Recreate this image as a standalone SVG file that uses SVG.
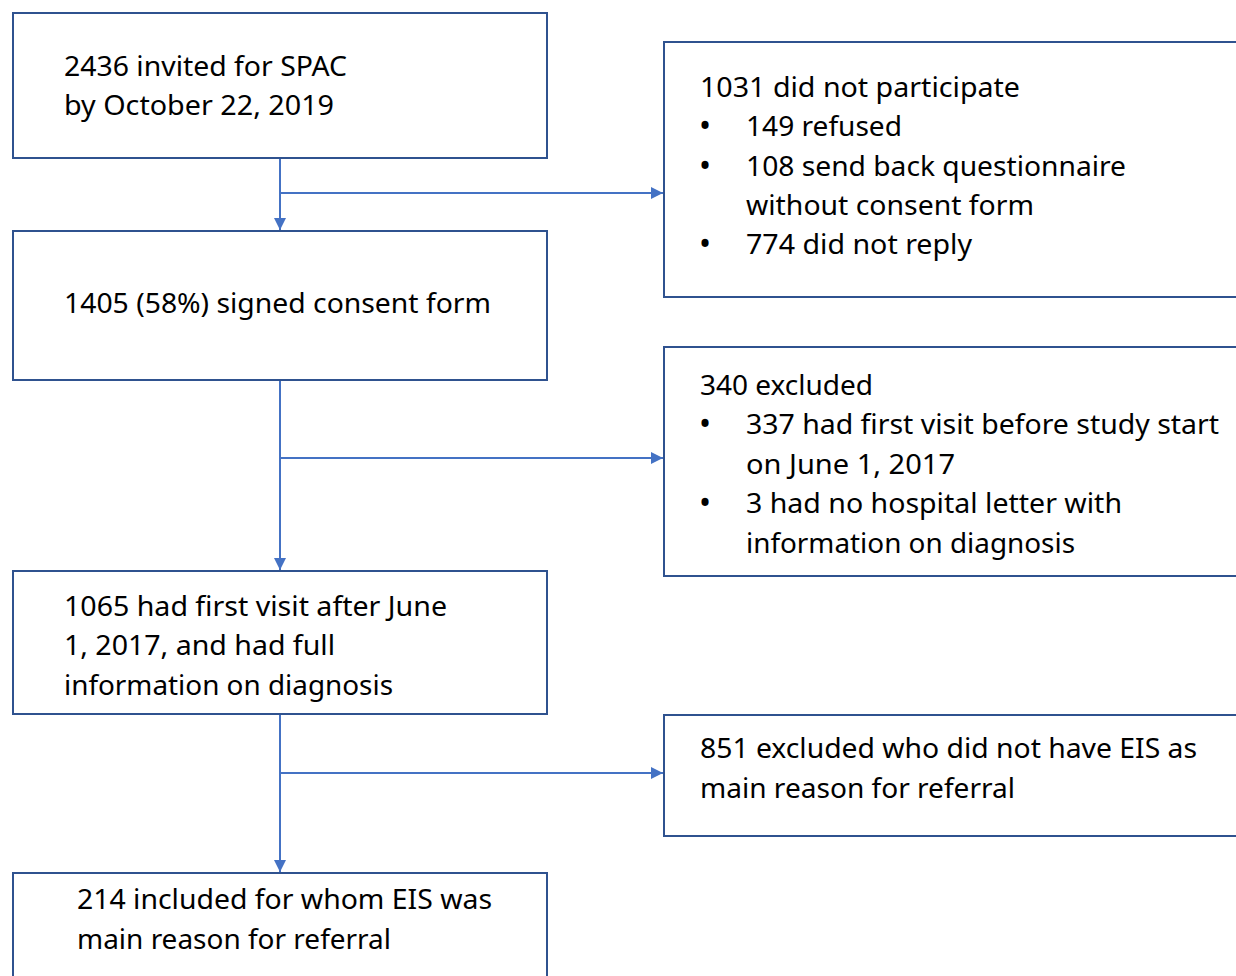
<svg xmlns="http://www.w3.org/2000/svg" width="1236" height="976" viewBox="0 0 1236 976">
<defs>
<style>
.box{fill:#ffffff;stroke:#2F528F;stroke-width:2}
.t{font-family:"Noto Sans","Open Sans",sans-serif;font-size:27px;fill:#000000}
.b{font-family:"Noto Sans","Open Sans",sans-serif;font-size:32px;fill:#000000}
.c{fill:none;stroke:#4472C4;stroke-width:2}
</style>
<marker id="ah" markerWidth="12" markerHeight="12" viewBox="0 0 12 12" refX="12" refY="6" orient="auto" markerUnits="userSpaceOnUse">
<path d="M0,0 L12,6 L0,12 Z" fill="#4472C4"/>
</marker>
</defs>
<rect width="1236" height="976" fill="#ffffff"/>
<g id="connectors">
<line class="c" x1="280" y1="159" x2="280" y2="230" marker-end="url(#ah)"/>
<line class="c" x1="280" y1="193" x2="663" y2="193" marker-end="url(#ah)"/>
<line class="c" x1="280" y1="381" x2="280" y2="570" marker-end="url(#ah)"/>
<line class="c" x1="280" y1="458" x2="663" y2="458" marker-end="url(#ah)"/>
<line class="c" x1="280" y1="715" x2="280" y2="872" marker-end="url(#ah)"/>
<line class="c" x1="280" y1="773" x2="663" y2="773" marker-end="url(#ah)"/>
</g>
<g id="n1">
<rect class="box" x="13" y="13" width="534" height="145"/>
<text class="t" x="64" y="76" textLength="283" lengthAdjust="spacingAndGlyphs">2436 invited for SPAC</text>
<text class="t" x="64" y="115" textLength="270" lengthAdjust="spacingAndGlyphs">by October 22, 2019</text>
</g>
<g id="n2">
<rect class="box" x="13" y="231" width="534" height="149"/>
<text class="t" x="64" y="313" textLength="427" lengthAdjust="spacingAndGlyphs">1405 (58%) signed consent form</text>
</g>
<g id="n3">
<rect class="box" x="13" y="571" width="534" height="143"/>
<text class="t" x="64" y="616" textLength="383" lengthAdjust="spacingAndGlyphs">1065 had first visit after June</text>
<text class="t" x="64" y="655" textLength="271" lengthAdjust="spacingAndGlyphs">1, 2017, and had full</text>
<text class="t" x="64" y="695" textLength="329" lengthAdjust="spacingAndGlyphs">information on diagnosis</text>
</g>
<g id="n4">
<rect class="box" x="13" y="873" width="534" height="120"/>
<text class="t" x="77" y="909" textLength="415" lengthAdjust="spacingAndGlyphs">214 included for whom EIS was</text>
<text class="t" x="77" y="949" textLength="314" lengthAdjust="spacingAndGlyphs">main reason for referral</text>
</g>
<g id="r1">
<rect class="box" x="664" y="42" width="590" height="255"/>
<text class="t" x="700" y="97" textLength="320" lengthAdjust="spacingAndGlyphs">1031 did not participate</text>
<text class="b" x="699" y="137">•</text>
<text class="t" x="746" y="136" textLength="156" lengthAdjust="spacingAndGlyphs">149 refused</text>
<text class="b" x="699" y="177">•</text>
<text class="t" x="746" y="176" textLength="380" lengthAdjust="spacingAndGlyphs">108 send back questionnaire</text>
<text class="t" x="746" y="215" textLength="288" lengthAdjust="spacingAndGlyphs">without consent form</text>
<text class="b" x="699" y="255">•</text>
<text class="t" x="746" y="254" textLength="226" lengthAdjust="spacingAndGlyphs">774 did not reply</text>
</g>
<g id="r2">
<rect class="box" x="664" y="347" width="590" height="229"/>
<text class="t" x="700" y="395" textLength="173" lengthAdjust="spacingAndGlyphs">340 excluded</text>
<text class="b" x="699" y="435">•</text>
<text class="t" x="746" y="434" textLength="473" lengthAdjust="spacingAndGlyphs">337 had first visit before study start</text>
<text class="t" x="746" y="474" textLength="209" lengthAdjust="spacingAndGlyphs">on June 1, 2017</text>
<text class="b" x="699" y="514">•</text>
<text class="t" x="746" y="513" textLength="376" lengthAdjust="spacingAndGlyphs">3 had no hospital letter with</text>
<text class="t" x="746" y="553" textLength="329" lengthAdjust="spacingAndGlyphs">information on diagnosis</text>
</g>
<g id="r3">
<rect class="box" x="664" y="715" width="590" height="121"/>
<text class="t" x="700" y="758" textLength="497" lengthAdjust="spacingAndGlyphs">851 excluded who did not have EIS as</text>
<text class="t" x="700" y="798" textLength="315" lengthAdjust="spacingAndGlyphs">main reason for referral</text>
</g>
</svg>
